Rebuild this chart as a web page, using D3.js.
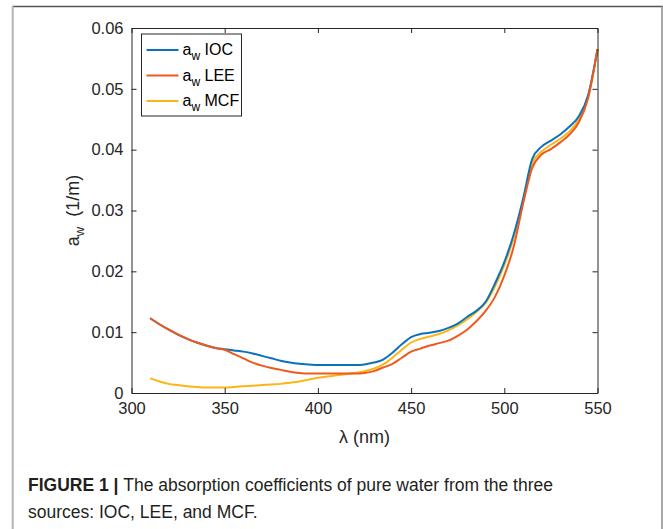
<!DOCTYPE html>
<html>
<head>
<meta charset="utf-8">
<script src="https://cdn.jsdelivr.net/npm/d3@7"></script>
<style>
  body { margin: 0; background: #fff; }
  svg text { font-family: "Liberation Sans", Arial, Helvetica, sans-serif; }
</style>
</head>
<body>
<div id="chart"></div>
<script>
// wavelengths (nm), 5 nm step
const wavelengths = d3.range(310, 551, 5);

const iocValues = [
  0.0123, 0.0113, 0.0104, 0.0096, 0.0089, 0.0083, 0.0078, 0.0074, 0.0072, 0.0070,
  0.0068, 0.0065, 0.0061, 0.0057, 0.0053, 0.0050, 0.0048, 0.0047, 0.0046, 0.0046,
  0.0046, 0.0046, 0.0046, 0.0047, 0.0050, 0.0055, 0.0066, 0.0080, 0.0092, 0.0097,
  0.0099, 0.0102, 0.0107, 0.0114, 0.0125, 0.0135, 0.0150, 0.0180, 0.0215, 0.0260,
  0.0318, 0.0385, 0.0405, 0.0415, 0.0425, 0.0438, 0.0455, 0.0490, 0.0565
];
const leeValues = [
  0.0123, 0.0113, 0.0104, 0.0096, 0.0089, 0.0083, 0.0078, 0.0074, 0.0071, 0.0064,
  0.0057, 0.0050, 0.0045, 0.0041, 0.0038, 0.0035, 0.0033, 0.0032, 0.0032, 0.0032,
  0.0032, 0.0032, 0.0032, 0.0033, 0.0036, 0.0042, 0.0048, 0.0058, 0.0068, 0.0073,
  0.0078, 0.0082, 0.0086, 0.0094, 0.0104, 0.0118, 0.0135, 0.0158, 0.0193, 0.0240,
  0.0310, 0.0370, 0.0392, 0.0401, 0.0412, 0.0425, 0.0445, 0.0485, 0.0565
];
const mcfValues = [
  0.0024, 0.0019, 0.0015, 0.0013, 0.0011, 0.0010, 0.0009, 0.0009, 0.0009, 0.0010,
  0.0011, 0.0012, 0.0013, 0.0014, 0.0015, 0.0017, 0.0019, 0.0022, 0.0025, 0.0027,
  0.0029, 0.0031, 0.0033, 0.0036, 0.0040, 0.0047, 0.0058, 0.0071, 0.0083, 0.0089,
  0.0093, 0.0097, 0.0103, 0.0111, 0.0121, 0.0133, 0.0148, 0.0175, 0.0210, 0.0255,
  0.0315, 0.0378, 0.0397, 0.0408, 0.0418, 0.0430, 0.0450, 0.0488, 0.0565
];

const seriesNames = ["IOC", "LEE", "MCF"];
const seriesColors = ["#0A72BD", "#EE5A1C", "#FDB515"];
const xTicks = [300, 350, 400, 450, 500, 550];
const yTicks = [0, 0.01, 0.02, 0.03, 0.04, 0.05, 0.06];

const W = 663, H = 529;
const plotLeft = 131.5, plotRight = 597.5, plotTop = 28, plotBottom = 393;
const axisColor = "#262626";

const svg = d3.select("#chart").append("svg")
    .attr("width", W)
    .attr("height", H);

// figure frame
svg.append("line").attr("x1", 12).attr("x2", W).attr("y1", 6.5).attr("y2", 6.5)
    .attr("stroke", "#555").attr("stroke-width", 1.5);
svg.append("line").attr("x1", 12.7).attr("x2", 12.7).attr("y1", 6).attr("y2", H)
    .attr("stroke", "#b4b4b4").attr("stroke-width", 2);
svg.append("line").attr("x1", 662).attr("x2", 662).attr("y1", 6).attr("y2", H)
    .attr("stroke", "#8a8a8a").attr("stroke-width", 1.5);

const x = d3.scaleLinear().domain([300, 550]).range([plotLeft, plotRight]);
const y = d3.scaleLinear().domain([0, 0.06]).range([plotBottom, plotTop]);

// curves
const series = [iocValues, leeValues, mcfValues];
const line = d3.line()
    .x((d, i) => x(wavelengths[i]))
    .y(d => y(d))
    .curve(d3.curveMonotoneX);

// LEE drawn over IOC where they overlap, as in the reference
[2, 0, 1].forEach(k => {
  svg.append("path")
      .datum(series[k])
      .attr("fill", "none")
      .attr("stroke", seriesColors[k])
      .attr("stroke-width", 2)
      .attr("d", line);
});

// axes (box with inner ticks)
const tickLen = 5;
const fmtY = d => d === 0 ? "0" : d3.format(".2f")(d);

svg.append("g")
    .attr("transform", `translate(0,${plotBottom})`)
    .call(d3.axisBottom(x).tickValues(xTicks).tickSize(-tickLen).tickPadding(9).tickSizeOuter(0))
    .call(g => g.selectAll("text").attr("font-size", 16.5).attr("fill", axisColor));
svg.append("g")
    .attr("transform", `translate(0,${plotTop})`)
    .call(d3.axisTop(x).tickValues(xTicks).tickSize(-tickLen).tickFormat("").tickSizeOuter(0));
svg.append("g")
    .attr("transform", `translate(${plotLeft},0)`)
    .call(d3.axisLeft(y).tickValues(yTicks).tickFormat(fmtY).tickSize(-tickLen).tickPadding(8).tickSizeOuter(0))
    .call(g => g.selectAll("text").attr("font-size", 16.5).attr("fill", axisColor));
svg.append("g")
    .attr("transform", `translate(${plotRight},0)`)
    .call(d3.axisRight(y).tickValues(yTicks).tickSize(-tickLen).tickFormat("").tickSizeOuter(0));

svg.selectAll(".domain").attr("stroke", axisColor);
svg.selectAll(".tick line").attr("stroke", axisColor);

// axis labels
const yl = svg.append("text")
    .attr("transform", `translate(79,${(plotTop + plotBottom) / 2}) rotate(-90)`)
    .attr("text-anchor", "middle")
    .attr("font-size", 18)
    .attr("fill", axisColor);
yl.append("tspan").text("a");
yl.append("tspan").attr("font-size", 13).attr("dy", 5).text("w");
yl.append("tspan").attr("dy", -5).text("\u00a0 (1/m)");

svg.append("text")
    .attr("x", (plotLeft + plotRight) / 2)
    .attr("y", 443)
    .attr("text-anchor", "middle")
    .attr("font-size", 18)
    .attr("fill", axisColor)
    .text("\u03bb (nm)");

// legend
const legend = svg.append("g").attr("transform", "translate(141.5,34)");
legend.append("rect")
    .attr("width", 100).attr("height", 82)
    .attr("fill", "#fff").attr("stroke", axisColor).attr("stroke-width", 1);
seriesNames.forEach((name, i) => {
  const ly = 16 + i * 25.5;
  legend.append("line")
      .attr("x1", 5).attr("x2", 37).attr("y1", ly).attr("y2", ly)
      .attr("stroke", seriesColors[i]).attr("stroke-width", 2);
  const t = legend.append("text")
      .attr("x", 41).attr("y", ly + 5)
      .attr("font-size", 16)
      .attr("fill", "#000");
  t.append("tspan").text("a");
  t.append("tspan").attr("font-size", 12).attr("dy", 5).text("w");
  t.append("tspan").attr("dy", -5).text(" " + name);
});

// caption
const cap1 = svg.append("text")
    .attr("x", 28).attr("y", 491)
    .attr("font-size", 17.5)
    .attr("fill", "#231f20");
cap1.append("tspan").attr("font-weight", "bold").text("FIGURE 1 | ");
cap1.append("tspan").text("The absorption coefficients of pure water from the three");
svg.append("text")
    .attr("x", 28).attr("y", 518)
    .attr("font-size", 17.5)
    .attr("fill", "#231f20")
    .text("sources: IOC, LEE, and MCF.");
</script>
</body>
</html>
